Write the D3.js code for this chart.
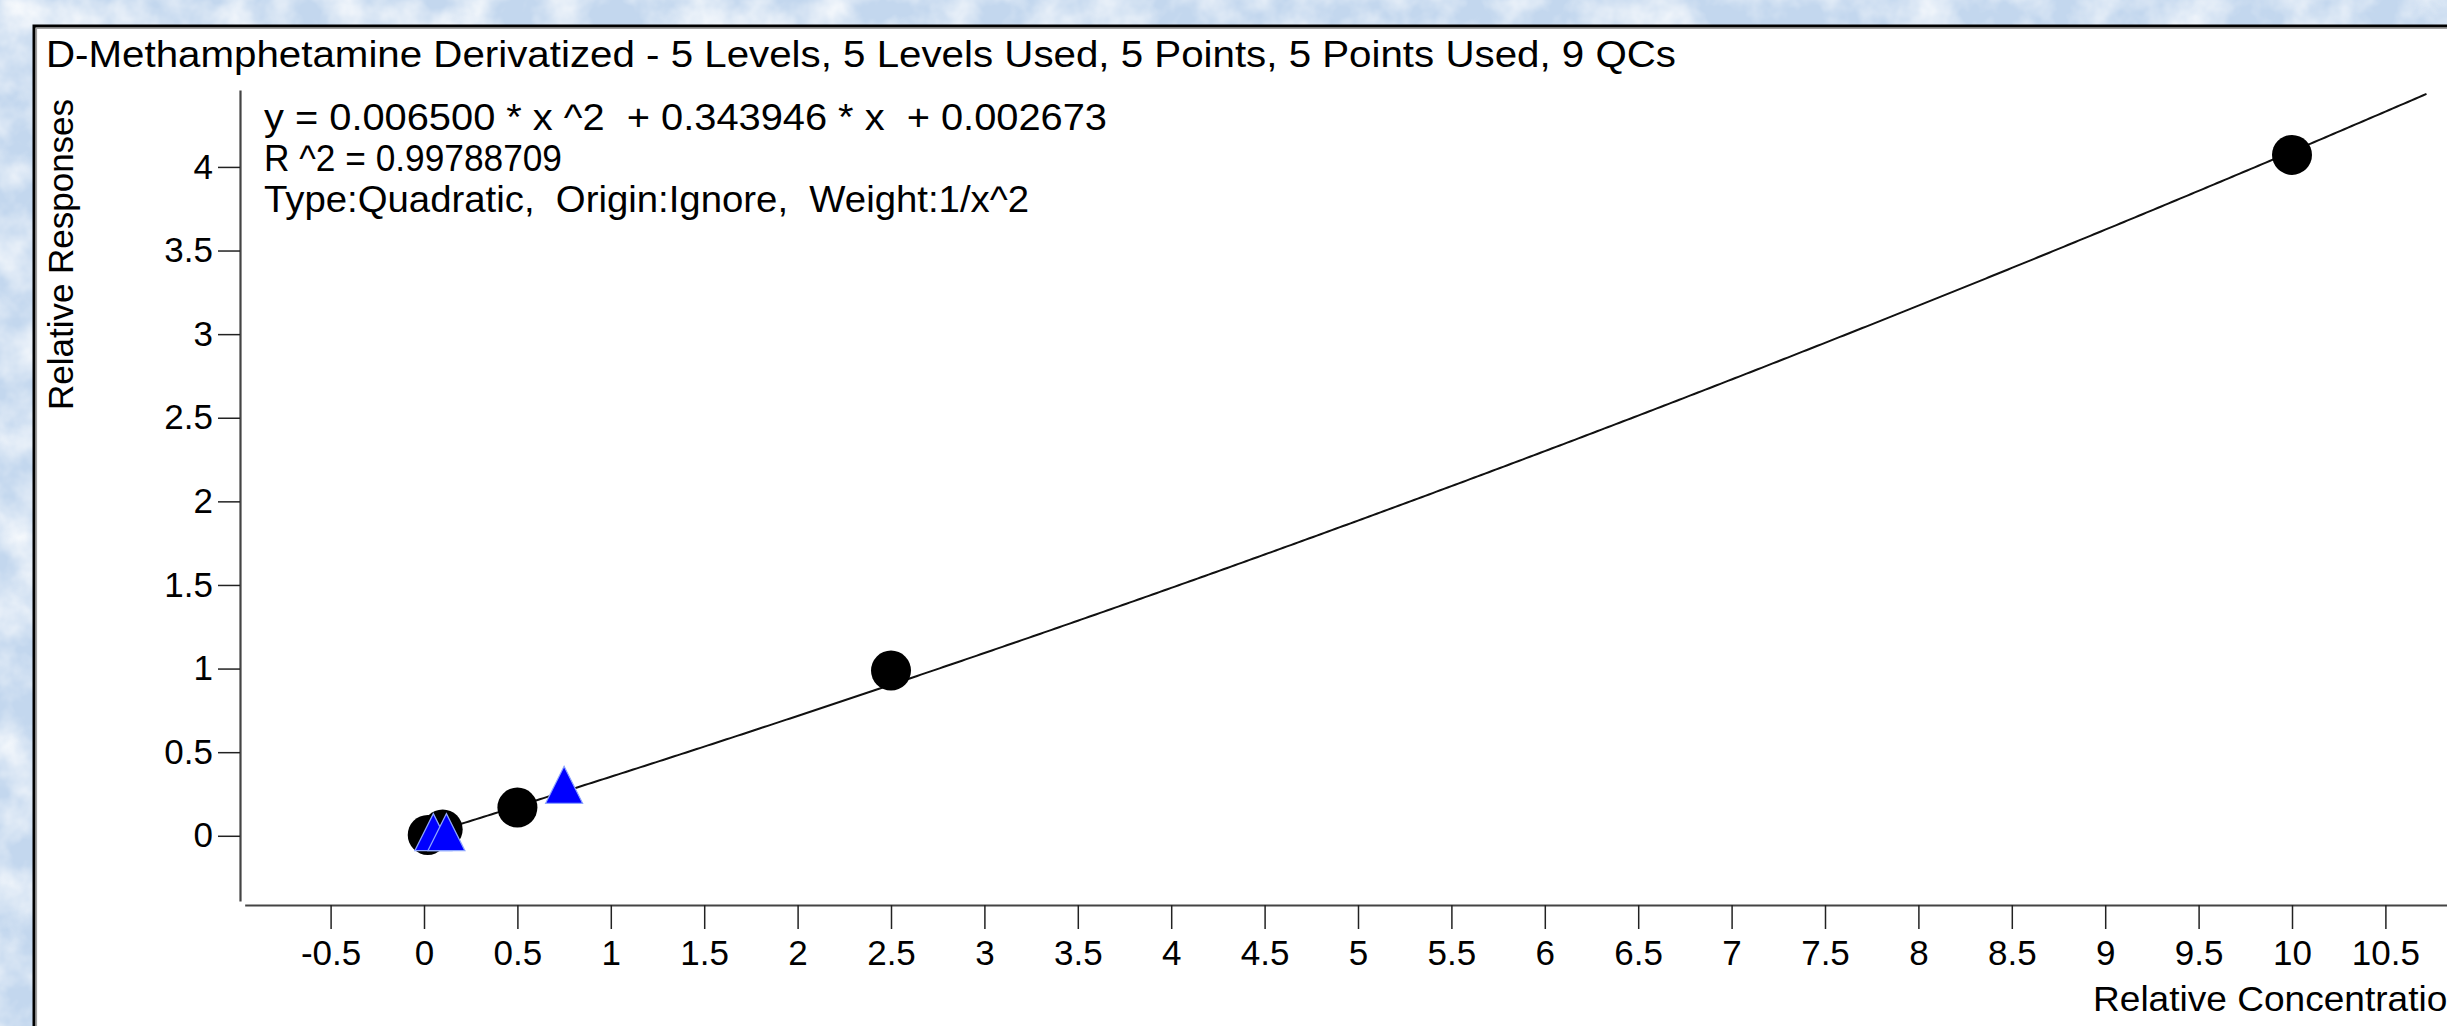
<!DOCTYPE html>
<html>
<head>
<meta charset="utf-8">
<script src="https://cdn.jsdelivr.net/npm/d3@7"></script>
<style>
  html, body { margin: 0; padding: 0; overflow: hidden; background: #c9dcf1; }
  svg { display: block; }
  text { font-family: "Liberation Sans", Arial, sans-serif; fill: #000; white-space: pre; }
</style>
</head>
<body>
<svg id="chart" width="2447" height="1026"></svg>
<script>
// Calibration standards (relative concentration / relative response)
const stdConc = [0.02, 0.1, 0.5, 2.5, 10];
const stdResp = [0.005, 0.038, 0.169, 0.988, 4.072];

// QC samples
const qcConc = [0.05, 0.12, 0.75];
const qcResp = [0.022, 0.022, 0.305];

// Quadratic fit coefficients: y = a*x^2 + b*x + c
const fitA = 0.006500;
const fitB = 0.343946;
const fitC = 0.002673;
const fitRange = [0.02, 10.72];

// Tick labels
const xTicks = [-0.5, 0, 0.5, 1, 1.5, 2, 2.5, 3, 3.5, 4, 4.5, 5, 5.5, 6, 6.5, 7, 7.5, 8, 8.5, 9, 9.5, 10, 10.5];
const yTicks = [0, 0.5, 1, 1.5, 2, 2.5, 3, 3.5, 4];

// Text
const titleText = "D-Methamphetamine Derivatized - 5 Levels, 5 Levels Used, 5 Points, 5 Points Used, 9 QCs";
const infoLines = [
  "y = 0.006500 * x ^2  + 0.343946 * x  + 0.002673",
  "R ^2 = 0.99788709",
  "Type:Quadratic,  Origin:Ignore,  Weight:1/x^2"
];
const xLabel = "Relative Concentration";
const yLabel = "Relative Responses";

const svg = d3.select("#chart");
const W = 2447, H = 1026;

// ---- textured blue backdrop ----
const defs = svg.append("defs");
const f = defs.append("filter").attr("id", "mottle")
  .attr("x", 0).attr("y", 0).attr("width", "100%").attr("height", "100%");
f.append("feTurbulence").attr("type", "fractalNoise")
  .attr("baseFrequency", "0.022").attr("numOctaves", 4).attr("seed", 5);
f.append("feColorMatrix").attr("type", "matrix")
  .attr("values", "0 0 0 0 1  0 0 0 0 1  0 0 0 0 1  1.5 0 0 0 -0.5");

svg.append("rect").attr("width", W).attr("height", H).attr("fill", "#c3d7ee");
svg.append("rect").attr("width", W).attr("height", H).attr("filter", "url(#mottle)");

// ---- white plot panel ----
const panel = { x: 34, y: 26 };
svg.append("rect")
  .attr("x", panel.x).attr("y", panel.y)
  .attr("width", W + 50).attr("height", H + 50)
  .attr("fill", "#fff").attr("stroke", "#000").attr("stroke-width", 3);
svg.append("path")
  .attr("d", `M${panel.x + 2.5},${H + 10} V${panel.y + 2.5} H${W + 10}`)
  .attr("fill", "none").attr("stroke", "#a0a0a0").attr("stroke-width", 1.2);

// ---- scales ----
const x = d3.scaleLinear().domain([-0.96, 11.2]).range([424 - 0.96 * 186.8, 424 + 11.2 * 186.8]);
const y = d3.scaleLinear().domain([-0.39, 4.46]).range([901, 90]);

const fmt = d => String(d);

// ---- axes ----
const xAxis = svg.append("g")
  .attr("transform", "translate(0,905)")
  .call(d3.axisBottom(x).tickValues(xTicks).tickFormat(fmt)
    .tickSize(24).tickSizeOuter(0).tickPadding(11));
xAxis.select(".domain").attr("stroke", "#444").attr("stroke-width", 2.2);
xAxis.selectAll(".tick line").attr("stroke", "#222").attr("stroke-width", 1.5);
xAxis.selectAll(".tick text").attr("font-size", 35).attr("fill", "#000")
  .attr("font-family", "Liberation Sans, Arial, sans-serif");

const yAxis = svg.append("g")
  .attr("transform", "translate(240,0)")
  .call(d3.axisLeft(y).tickValues(yTicks).tickFormat(fmt)
    .tickSize(22).tickSizeOuter(0).tickPadding(5));
yAxis.select(".domain").attr("stroke", "#444").attr("stroke-width", 2.2);
yAxis.selectAll(".tick line").attr("stroke", "#222").attr("stroke-width", 1.5);
yAxis.selectAll(".tick text").attr("font-size", 35).attr("fill", "#000")
  .attr("font-family", "Liberation Sans, Arial, sans-serif");

// ---- title and fit information ----
svg.append("text")
  .attr("x", 46).attr("y", 67)
  .attr("font-size", 37)
  .attr("textLength", 1630).attr("lengthAdjust", "spacingAndGlyphs")
  .text(titleText);

const infoLens = [843, 298, 765];
const infoBase = [130, 171, 212];
infoLines.forEach((t, i) => {
  svg.append("text")
    .attr("x", 264).attr("y", infoBase[i])
    .attr("font-size", 37)
    .attr("textLength", infoLens[i]).attr("lengthAdjust", "spacingAndGlyphs")
    .text(t);
});

// ---- axis titles ----
svg.append("text")
  .attr("transform", "translate(73,410) rotate(-90)")
  .attr("font-size", 35)
  .attr("textLength", 311).attr("lengthAdjust", "spacingAndGlyphs")
  .text(yLabel);

svg.append("text")
  .attr("x", 2093).attr("y", 1011)
  .attr("font-size", 35)
  .attr("textLength", 375).attr("lengthAdjust", "spacingAndGlyphs")
  .text(xLabel);

// ---- fitted calibration curve ----
const fit = v => fitA * v * v + fitB * v + fitC;
const curveX = d3.range(fitRange[0], fitRange[1], 0.02).concat([fitRange[1]]);
svg.append("path")
  .datum(curveX)
  .attr("fill", "none")
  .attr("stroke", "#111")
  .attr("stroke-width", 2)
  .attr("d", d3.line().x(d => x(d)).y(d => y(fit(d))));

// ---- calibration standards ----
svg.append("g").selectAll("circle")
  .data(d3.zip(stdConc, stdResp))
  .join("circle")
  .attr("cx", d => x(d[0]))
  .attr("cy", d => y(d[1]))
  .attr("r", 20)
  .attr("fill", "#000");

// ---- QC samples (blue triangles) ----
const tw = 37, th = 37;
svg.append("g").selectAll("path")
  .data(d3.zip(qcConc, qcResp))
  .join("path")
  .attr("transform", d => `translate(${x(d[0])},${y(d[1])})`)
  .attr("d", `M0,${-th / 2} L${tw / 2},${th / 2} L${-tw / 2},${th / 2} Z`)
  .attr("fill", "#0000ff")
  .attr("stroke", "#8fa6ff")
  .attr("stroke-width", 1.2);
</script>
</body>
</html>
